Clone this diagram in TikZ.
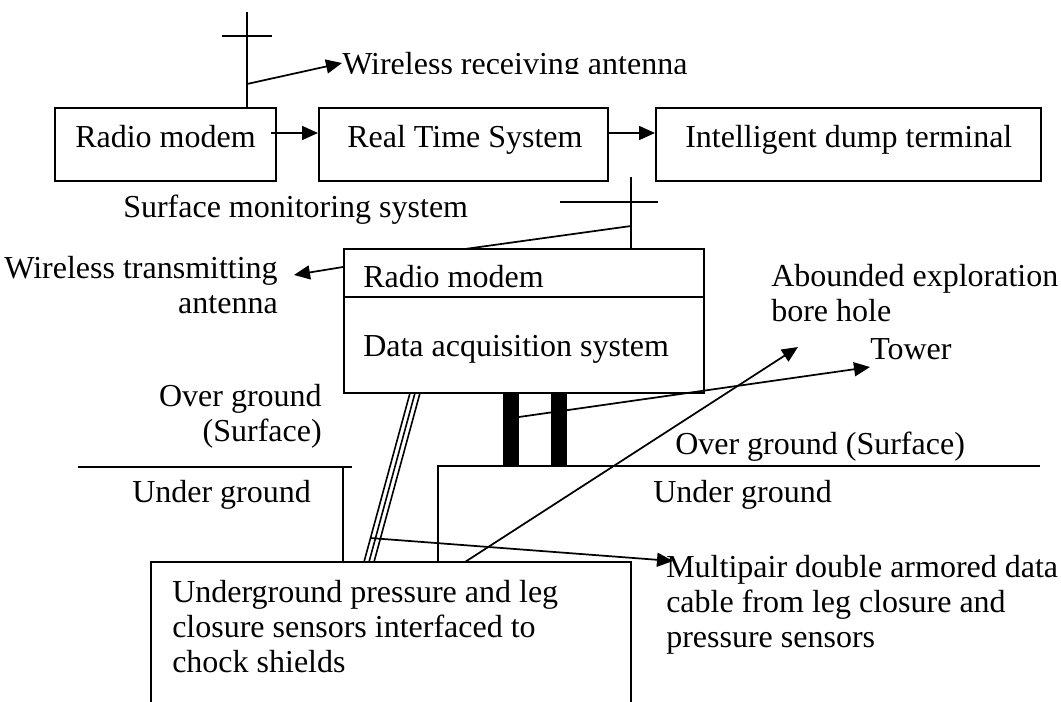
\documentclass[tikz,border=0pt]{standalone}
\usepackage{fontspec}
\setmainfont{Liberation Serif}
\usetikzlibrary{arrows.meta,fit}
\begin{document}
\begin{tikzpicture}[x=0.75pt,y=-0.75pt,
  every node/.style={font=\fontsize{24}{26.25}\selectfont},
  lbl/.style={inner sep=0pt, anchor=base west},
  lblr/.style={inner sep=0pt, anchor=base east, align=right},
  box/.style={draw, line width=1.5pt, inner sep=0pt},
  ln/.style={line width=1.3pt},
  arr/.style={ln, -{Triangle[length=12pt,width=10.5pt]}},
  bar/.style={fill=black}]
\useasboundingbox (0,0) rectangle (1061,702);
\clip (0,0) rectangle (1061,702);

% ---- top row boxes
\coordinate (rmA) at (55,108);  \coordinate (rmB) at (276,181);
\coordinate (rtA) at (319,108); \coordinate (rtB) at (608,181);
\coordinate (idA) at (656,108); \coordinate (idB) at (1041,181);
\node[box, fit=(rmA)(rmB)] (rm1) {};
\node[box, fit=(rtA)(rtB)] (rts) {};
\node[box, fit=(idA)(idB)] (idt) {};
\node[lbl] (rm1t) at (75,148) {Radio modem};
\node[lbl] (rtst) at (347,148) {Real Time System};
\node[lbl] (idtt) at (685,148) {Intelligent dump terminal};
\draw[arr] ([shift={(-6,-11.5)}]rm1.east) -- ([shift={(0,-11.5)}]rts.west);
\draw[arr] ([shift={(-1,-11.5)}]rts.east) -- ([shift={(0,-11.5)}]idt.west);

% ---- receiving antenna
\coordinate (a1top) at (247,12);
\coordinate (a1mid) at (247,84);
\coordinate (a1cl) at (222,36); \coordinate (a1cr) at (272,36);
\draw[ln] (a1top) -- (a1top |- rm1.north);
\draw[ln] (a1cl) -- (a1cr);
\begin{scope}
\clip (330,0) rectangle (760,74);
\node[lbl] (wra) at (342,74.5) {Wireless receiving antenna};
\end{scope}
\draw[arr] (a1mid) -- (wra.base west |- 0,63);

\node[lbl] (sms) at (123,218) {Surface monitoring system};

% ---- data acquisition box
\coordinate (daA) at (344,249); \coordinate (daB) at (704,393);
\node[box, fit=(daA)(daB)] (dacq) {};
\draw[line width=1.5pt] (dacq.west |- 0,297) -- (dacq.east |- 0,297);
\node[lbl] (rm2t) at (363,288) {Radio modem};
\node[lbl] (dast) at (363,357) {Data acquisition system};

% ---- transmitting antenna
\coordinate (a2top) at (631,177);
\coordinate (a2mid) at (631,226);
\coordinate (a2cl) at (560,202); \coordinate (a2cr) at (658,202);
\coordinate (a2foot) at (465,249);
\draw[ln] (a2top) -- (a2top |- dacq.north);
\draw[ln] (a2cl) -- (a2cr);
\draw[ln] (a2mid) -- (a2foot);
\node[lblr] (wta) at (278,314) {Wireless transmitting\\antenna};
\coordinate (wtatip) at (294,275);
\draw[arr] (dacq.west |- 0,267) -- (wtatip);

% ---- tower bars
\node[bar, inner sep=0pt, minimum width=12pt, minimum height=54.75pt, anchor=north west] (bar1) at (503,393) {};
\node[bar, inner sep=0pt, minimum width=12pt, minimum height=54.75pt, anchor=north west] (bar2) at (551,393) {};

% ---- ground lines
\coordinate (gl1) at (78,467); \coordinate (gl2) at (352,467);
\coordinate (gv1) at (343,467);
\coordinate (gr1) at (438,466); \coordinate (gr2) at (1040,466);
\draw[ln] (gl1) -- (gl2);
\draw[ln] (gv1) -- (343,562);
\draw[ln] (438,562) -- (gr1) -- (gr2);

\node[lblr] (ogl) at (322,441) {Over ground\\(Surface)};
\node[lbl] (ugl) at (132,502) {Under ground};
\node[lbl] (ogr) at (675,455) {Over ground (Surface)};
\node[lbl] (ugr) at (653,502) {Under ground};

% ---- sensors box (open at the bottom of the picture)
\coordinate (snA) at (151,562); \coordinate (snB) at (631,720);
\node[box, fit=(snA)(snB)] (sens) {};
\node[lbl, align=left] (senst) at (172,672) {Underground pressure and leg\\closure sensors interfaced to\\chock shields};

% ---- multipair cable (three strands)
\draw[line width=1.2pt] (410,393) -- (364,562);
\draw[line width=1.2pt] (415,393) -- (369,562);
\draw[line width=1.2pt] (420,393) -- (374,562);
\coordinate (cabpt) at (370,538);
\node[lbl, align=left] (mpt) at (666,647) {Multipair double armored data\\cable from leg closure and\\pressure sensors};
\draw[arr] (cabpt) -- (673,561);

% ---- bore hole and tower arrows
\node[lbl, align=left] (abt) at (771,322) {Abounded exploration\\bore hole};
\node[lbl] (towt) at (870,360) {Tower};
\coordinate (boreft) at (465,562);
\draw[arr] (boreft) -- (798,347);
\coordinate (towft) at (519,417);
\draw[arr] (towft) -- (870,367);
\end{tikzpicture}
\end{document}
